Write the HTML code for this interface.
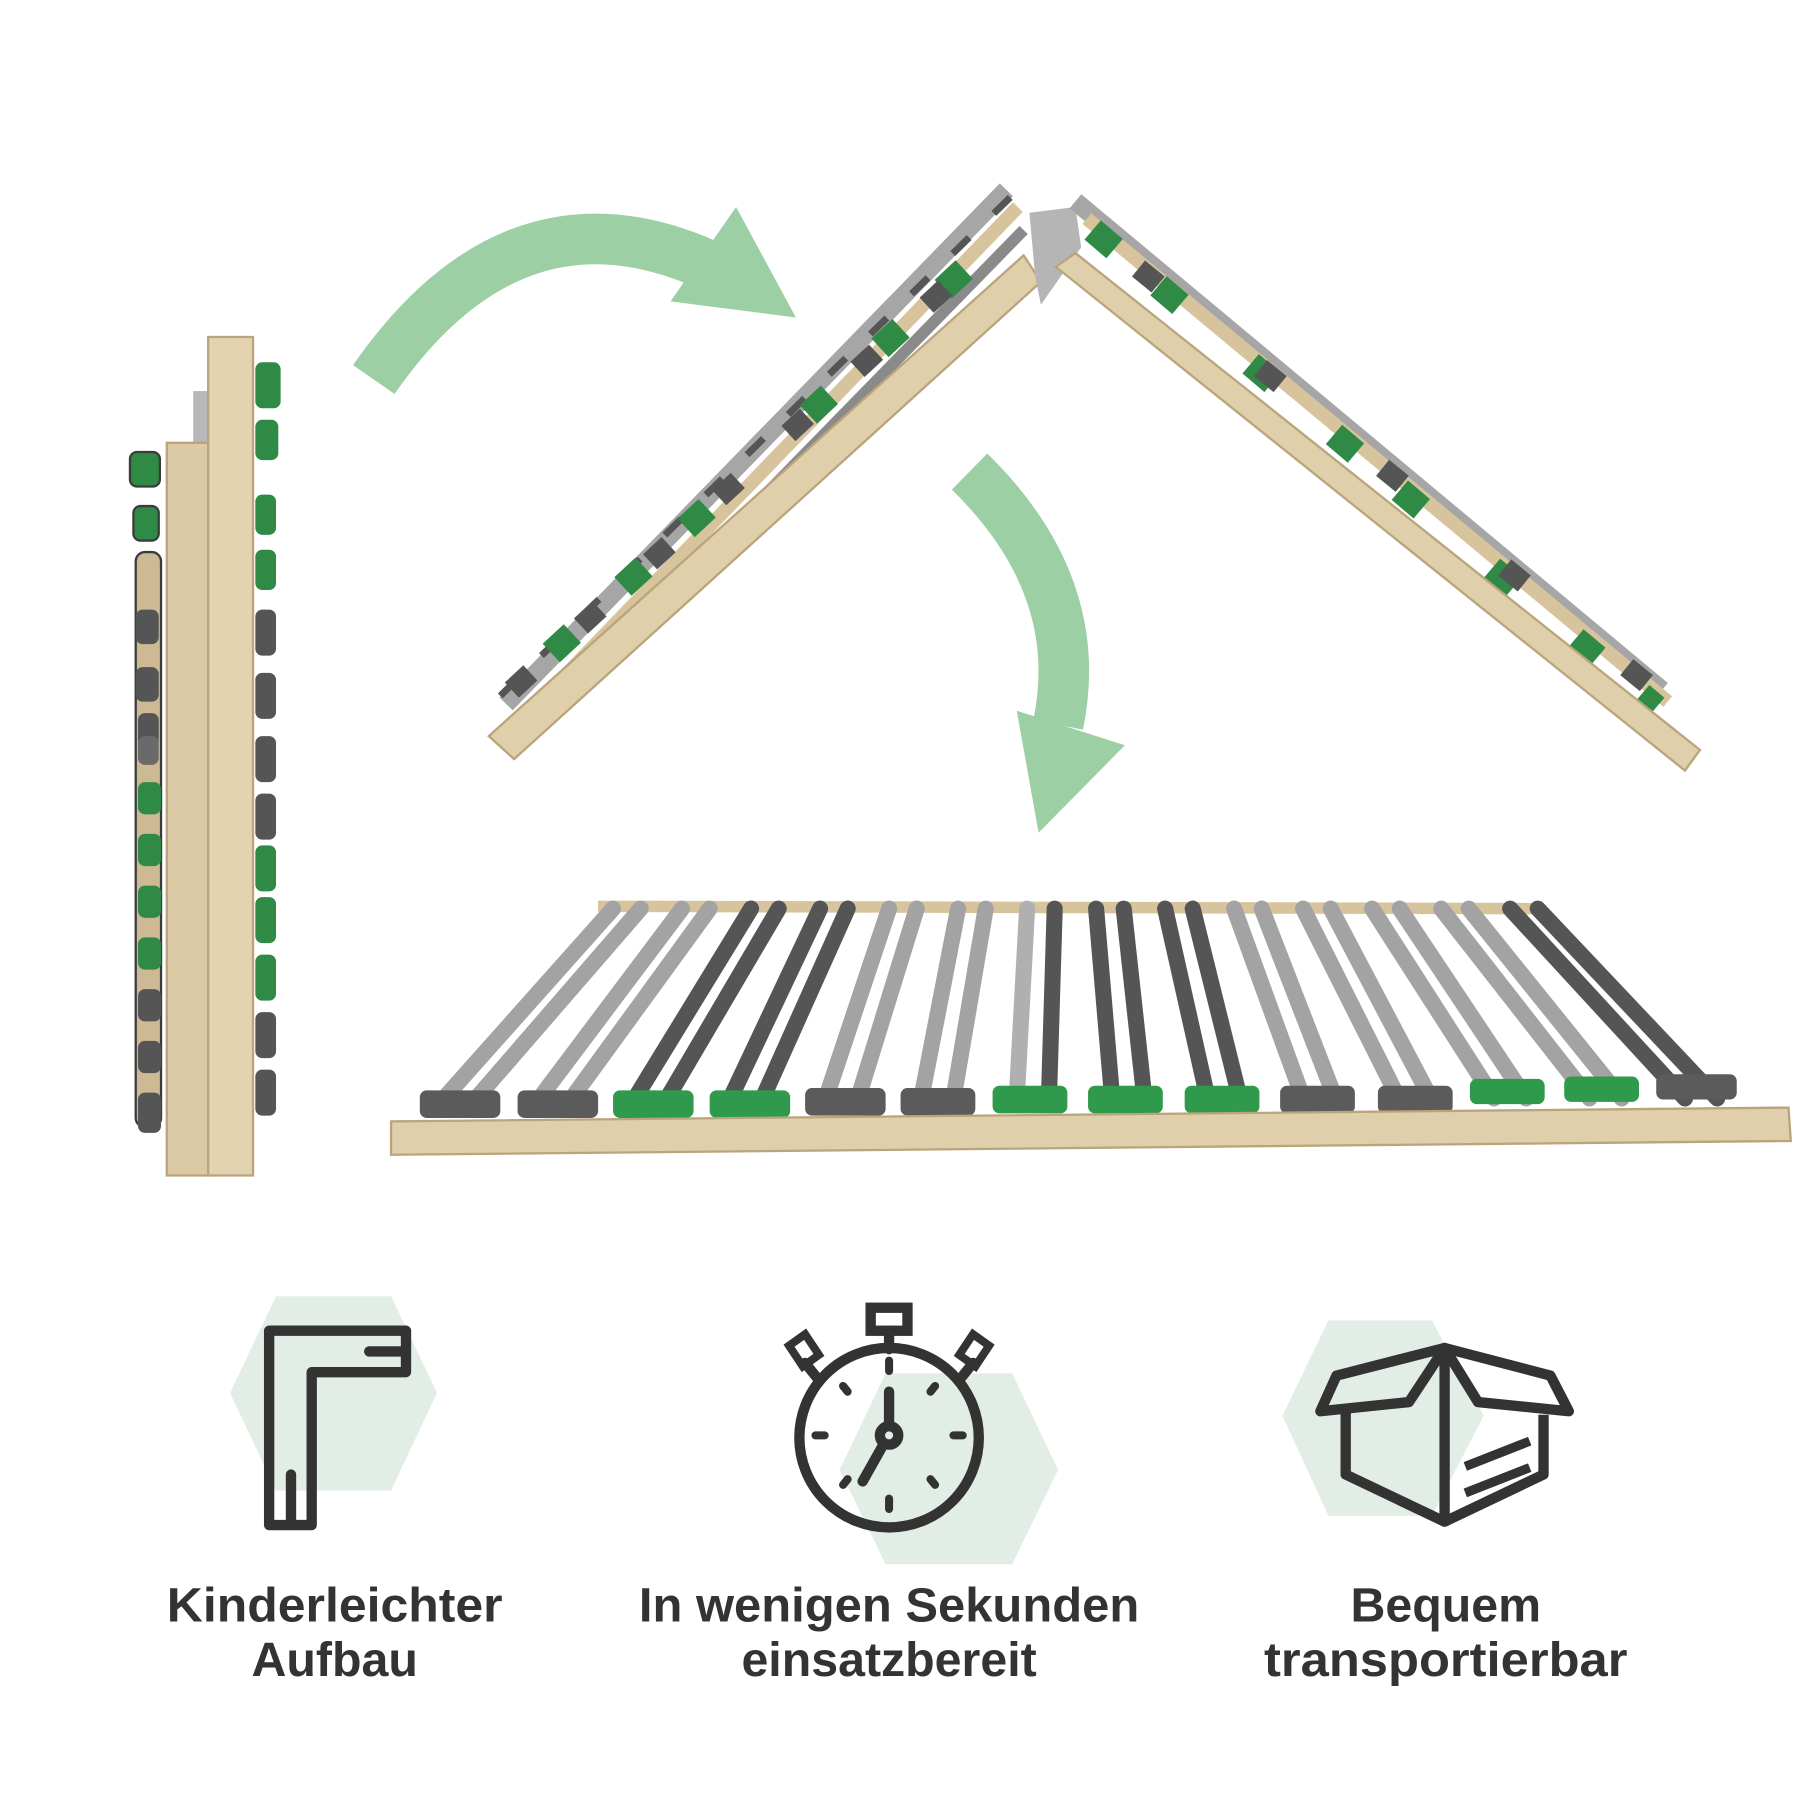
<!DOCTYPE html>
<html><head><style>html,body{margin:0;padding:0;background:#fff}svg{display:block}</style></head>
<body>
<svg width="1800" height="1800" viewBox="0 0 1565 1565" xmlns="http://www.w3.org/2000/svg">
<rect width="1565" height="1565" fill="#fff"/>
<!-- arrows -->
<path d="M325 330 Q450 150 625 235" fill="none" stroke="#9ccfa4" stroke-width="44"/>
<polygon points="583,262 640,180 692,276" fill="#9ccfa4"/>
<path d="M843 410 Q945 510 920 630" fill="none" stroke="#9ccfa4" stroke-width="44"/>
<polygon points="884,618 978,648 903,724" fill="#9ccfa4"/>
<!-- folded frame left -->
<g>
<g stroke="#3b3b3b" stroke-width="2">
<rect x="113" y="393" width="26" height="30" rx="6" fill="#2f8a45"/>
<rect x="116" y="440" width="22" height="30" rx="6" fill="#2f8a45"/>
<rect x="118" y="480" width="22" height="500" rx="8" fill="#cdb993"/>
</g>
<g fill="#555">
<rect x="118" y="530" width="20" height="30" rx="6"/><rect x="118" y="580" width="20" height="30" rx="6"/>
<rect x="120" y="620" width="18" height="30" rx="6"/><rect x="120" y="640" width="18" height="25" rx="6" fill="#6a6a6a"/>
<rect x="120" y="680" width="20" height="28" rx="6" fill="#2f8a45"/><rect x="120" y="725" width="20" height="28" rx="6" fill="#2f8a45"/>
<rect x="120" y="770" width="20" height="28" rx="6" fill="#2f8a45"/><rect x="120" y="815" width="20" height="28" rx="6" fill="#2f8a45"/>
<rect x="120" y="860" width="20" height="28" rx="6"/><rect x="120" y="905" width="20" height="28" rx="6"/>
<rect x="120" y="950" width="20" height="35" rx="6"/>
</g>
<g fill="#2f8a45">
<rect x="222" y="315" width="22" height="40" rx="6"/><rect x="222" y="365" width="20" height="35" rx="6"/>
<rect x="222" y="430" width="18" height="35" rx="6"/><rect x="222" y="478" width="18" height="35" rx="6"/>
<rect x="222" y="530" width="18" height="40" rx="6" fill="#555"/><rect x="222" y="585" width="18" height="40" rx="6" fill="#555"/>
<rect x="222" y="640" width="18" height="40" rx="6" fill="#555"/><rect x="222" y="690" width="18" height="40" rx="6" fill="#555"/>
<rect x="222" y="735" width="18" height="40" rx="6"/><rect x="222" y="780" width="18" height="40" rx="6"/>
<rect x="222" y="830" width="18" height="40" rx="6"/><rect x="222" y="880" width="18" height="40" rx="6" fill="#555"/>
<rect x="222" y="930" width="18" height="40" rx="6" fill="#555"/>
</g>
<rect x="168" y="340" width="16" height="60" fill="#b8b8b8"/>
<rect x="145" y="385" width="36" height="637" fill="#dccaa6" stroke="#b9a47c" stroke-width="2"/>
<rect x="181" y="293" width="39" height="729" fill="#e3d3b0" stroke="#b9a47c" stroke-width="2"/>
</g>
<!-- A-frame left -->
<g>
<path d="M440 612 L875 165" stroke="#a6a6a6" stroke-width="16"/>
<path d="M455 625 L885 180" stroke="#d8c49c" stroke-width="12"/>
<path d="M470 630 L890 200" stroke="#8a8a8a" stroke-width="10"/>
<path d="M435 605 L880 170" stroke="#555" stroke-width="6" stroke-dasharray="20 30"/>
<path d="M450 595 L870 205" stroke="#2f8a45" stroke-width="22" stroke-dasharray="0 40 25 60 25 50 25 80" />
<path d="M445 600 L860 215" stroke="#555" stroke-width="18" stroke-dasharray="22 60"/>
<polygon points="425,640 890,222 905,245 447,660" fill="#e0cfab" stroke="#b9a47c" stroke-width="2"/>
<polygon points="895,185 935,180 940,215 905,265 900,240" fill="#b5b5b5"/>
</g>
<!-- A-frame right -->
<g>
<path d="M935 175 L1445 600" stroke="#a6a6a6" stroke-width="16"/>
<path d="M945 190 L1450 610" stroke="#d8c49c" stroke-width="12"/>
<path d="M950 200 L1440 615" stroke="#2f8a45" stroke-width="22" stroke-dasharray="25 50 25 80 25 70"/>
<path d="M955 205 L1445 605" stroke="#555" stroke-width="18" stroke-dasharray="0 45 22 70"/>
<polygon points="918,232 935,220 1478,652 1465,670" fill="#e0cfab" stroke="#b9a47c" stroke-width="2"/>
</g>
<!-- flat frame -->
<g>
<path d="M520 788 L1335 790" stroke="#d8c49c" stroke-width="10"/>
<g stroke-width="14" stroke-linecap="round">
<path d="M386 955 L533 790 M414 955 L557 790" stroke="#a3a3a3"/>
<path d="M469 955 L593 790 M497 955 L617 790" stroke="#a3a3a3"/>
<path d="M552 955 L653 790 M580 955 L677 790" stroke="#555"/>
<path d="M635 955 L713 790 M663 955 L737 790" stroke="#555"/>
<path d="M718 955 L773 790 M746 955 L797 790" stroke="#a3a3a3"/>
<path d="M801 955 L833 790 M829 955 L857 790" stroke="#a3a3a3"/>
<path d="M884 955 L893 790" stroke="#b0b0b0"/><path d="M912 955 L917 790" stroke="#555"/>
<path d="M967 955 L953 790 M995 955 L977 790" stroke="#555"/>
<path d="M1050 955 L1013 790 M1078 955 L1037 790" stroke="#555"/>
<path d="M1133 955 L1073 790 M1161 955 L1097 790" stroke="#a3a3a3"/>
<path d="M1216 955 L1133 790 M1244 955 L1157 790" stroke="#a3a3a3"/>
<path d="M1299 955 L1193 790 M1327 955 L1217 790" stroke="#a3a3a3"/>
<path d="M1382 955 L1253 790 M1410 955 L1277 790" stroke="#a3a3a3"/>
<path d="M1465 955 L1313 790 M1493 955 L1337 790" stroke="#555"/>
</g>
<g>
<rect x="365" y="948" width="70" height="24" rx="6" fill="#5b5b5b"/>
<rect x="450" y="948" width="70" height="24" rx="6" fill="#5b5b5b"/>
<rect x="533" y="948" width="70" height="24" rx="6" fill="#2f9a4b"/>
<rect x="617" y="948" width="70" height="24" rx="6" fill="#2f9a4b"/>
<rect x="700" y="946" width="70" height="24" rx="6" fill="#5b5b5b"/>
<rect x="783" y="946" width="65" height="24" rx="6" fill="#5b5b5b"/>
<rect x="863" y="944" width="65" height="24" rx="6" fill="#2f9a4b"/>
<rect x="946" y="944" width="65" height="24" rx="6" fill="#2f9a4b"/>
<rect x="1030" y="944" width="65" height="24" rx="6" fill="#2f9a4b"/>
<rect x="1113" y="944" width="65" height="24" rx="6" fill="#5b5b5b"/>
<rect x="1198" y="944" width="65" height="24" rx="6" fill="#5b5b5b"/>
<rect x="1278" y="938" width="65" height="22" rx="6" fill="#2f9a4b"/>
<rect x="1360" y="936" width="65" height="22" rx="6" fill="#2f9a4b"/>
<rect x="1440" y="934" width="70" height="22" rx="6" fill="#5b5b5b"/>
</g>
<polygon points="340,975 1555,963 1557,992 340,1004" fill="#e0cfab" stroke="#b9a47c" stroke-width="2"/>
</g>
<!-- hexagons -->
<g fill="#e2eee5">
<polygon points="240,1127 340,1127 380,1211 340,1296 240,1296 200,1211"/>
<polygon points="770,1194 880,1194 920,1278 880,1360 770,1360 730,1278"/>
<polygon points="1155,1148 1245,1148 1290,1231 1245,1318 1155,1318 1115,1231"/>
</g>
<!-- L icon -->
<g fill="none" stroke="#333" stroke-width="9" stroke-linejoin="round" stroke-linecap="round">
<path d="M234 1157 H353 V1193 H271 V1326 H234 Z"/>
<path d="M321 1175 H350"/>
<path d="M253 1282 V1322"/>
</g>
<!-- stopwatch -->
<g fill="none" stroke="#333" stroke-width="9" stroke-linecap="round">
<circle cx="773" cy="1250" r="78"/>
<rect x="757" y="1137" width="32" height="20" fill="#fff"/>
<path d="M773 1157 V1173"/>
<path d="M700 1185 L712 1200 M846 1185 L834 1200"/>
<circle cx="773" cy="1248" r="8"/>
<path d="M773 1240 V1210 M768 1256 L750 1288"/>
</g>
<g fill="none" stroke="#333" stroke-width="7" stroke-linecap="round">
<path d="M686 1170 L700 1160 L712 1178 L698 1188 Z"/>
<path d="M860 1170 L846 1160 L834 1178 L848 1188 Z"/>
<path d="M773 1183 V1192 M773 1303 V1312 M709 1248 H717 M829 1248 H837 M733 1205 L737 1210 M813 1205 L809 1210 M733 1291 L737 1286 M813 1291 L809 1286"/>
</g>
<!-- box -->
<g fill="none" stroke="#333" stroke-width="9" stroke-linejoin="round">
<path d="M1256 1172 L1162 1196 L1148 1227 L1225 1219 Z"/>
<path d="M1256 1172 L1348 1196 L1364 1227 L1285 1219 Z"/>
<path d="M1170 1228 V1282 L1256 1323 L1342 1282 V1230"/>
<path d="M1256 1175 V1323"/>
</g>
<path d="M1274 1275 L1330 1253 M1274 1298 L1330 1276" stroke="#333" stroke-width="8"/>
<!-- text -->
<g font-family="Liberation Sans, sans-serif" font-weight="bold" font-size="42" fill="#333" text-anchor="middle">
<text x="291" y="1410" textLength="292" lengthAdjust="spacingAndGlyphs">Kinderleichter</text>
<text x="291" y="1457">Aufbau</text>
<text x="773" y="1410" textLength="435" lengthAdjust="spacingAndGlyphs">In wenigen Sekunden</text>
<text x="773" y="1457">einsatzbereit</text>
<text x="1257" y="1410">Bequem</text>
<text x="1257" y="1457" textLength="316" lengthAdjust="spacingAndGlyphs">transportierbar</text>
</g>
</svg>
</body></html>
